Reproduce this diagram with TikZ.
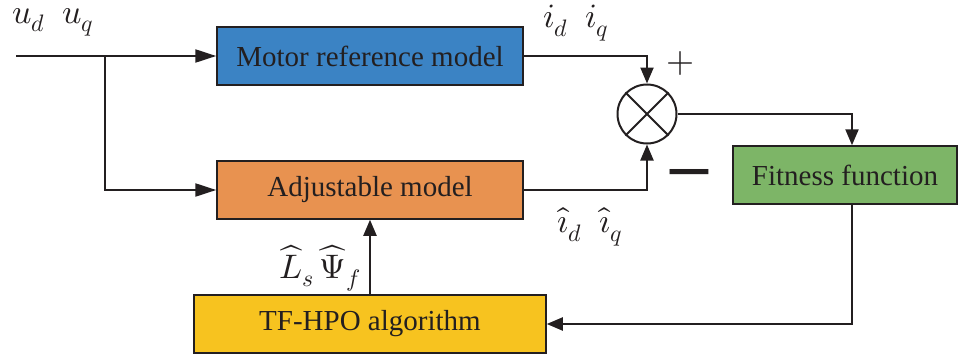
\documentclass[tikz,border=0pt]{standalone}
\usepackage{fontspec}
\usepackage{unicode-math}
\setmainfont{Liberation Serif}
\setmathfont{Latin Modern Math}
\newfontfamily\symfont{DejaVu Sans}
\newfontfamily\blockfont{Liberation Serif}
\usetikzlibrary{arrows.meta,calc}

\definecolor{refblue}{RGB}{59,131,196}
\definecolor{adjorange}{RGB}{232,146,80}
\definecolor{fitgreen}{RGB}{125,181,103}
\definecolor{algoyellow}{RGB}{247,195,31}
\definecolor{ink}{RGB}{35,31,32}

\tikzset{
  blockbox/.style={draw=ink, line width=1.5pt, rectangle, inner sep=0pt,
    minimum height=58pt, text=ink,
    font=\blockfont\fontsize{29}{34}\selectfont},
  flow/.style={draw=ink, line width=2.2pt},
  tip/.style={-{Triangle[length=16pt,width=13pt]}},
  longtip/.style={-{Triangle[length=21pt,width=13pt]}},
  mathlbl/.style={text=ink, inner sep=0pt, font=\fontsize{34}{40}\selectfont},
}

\begin{document}
\begin{tikzpicture}[x=1pt,y=-1pt]
  \useasboundingbox (0,0) rectangle (961,356);

  % blocks
  \node[blockbox, fill=refblue, minimum width=306pt] (ref) at (370,56) {Motor reference model};
  \node[blockbox, fill=adjorange, minimum width=306pt] (adj) at (370,190) {Adjustable model};
  \node[blockbox, fill=fitgreen, minimum width=224pt] (fit) at (845,175) {Fitness function};
  \node[blockbox, fill=algoyellow, minimum width=352pt] (algo) at (370,324) {TF-HPO algorithm};

  % comparator
  \node[draw=ink, line width=2pt, circle, minimum size=59pt, inner sep=0pt, fill=white] (sum) at (647,114) {};
  \draw[ink, line width=2pt] (sum.45) -- (sum.225) (sum.135) -- (sum.315);

  % input line and branch
  \coordinate (in) at (16,56);
  \coordinate (br) at (105,56);
  \draw[flow, longtip] (in) -- (ref.west);
  \draw[flow, longtip] (br) |- (adj.west);

  % model outputs into the comparator
  \draw[flow, tip] (ref.east) -| (sum.north);
  \draw[flow, tip] (adj.east) -| (sum.south);

  % error to fitness, fitness back to the optimiser
  \draw[flow, tip] (sum.east) -| ([xshift=7pt]fit.north);
  \draw[flow, tip] ([xshift=7pt]fit.south) |- (algo.east);

  % estimated parameters into the adjustable model
  \draw[flow, tip] (algo.north) -- (adj.south);

  % labels
  \node[mathlbl] (lu) at (53,22) {$u_d\ \ u_q$};
  \node[mathlbl] (li) at (576,23) {$i_d\ \ i_q$};
  \node[mathlbl] (lhi) at (590,227) {$\hat{\imath}_d\ \ \hat{\imath}_q$};
  \node[mathlbl] (lp) at (320,268) {$\widehat{L}_s\,\widehat{\Psi}_f$};
  \node[text=ink, inner sep=0pt, font=\fontsize{36}{40}\selectfont] (plus) at (680,63) {$+$};
  \node[text=ink, inner sep=0pt, font=\symfont\fontsize{62}{66}\selectfont] (minus) at (689,180) {−};
\end{tikzpicture}
\end{document}
